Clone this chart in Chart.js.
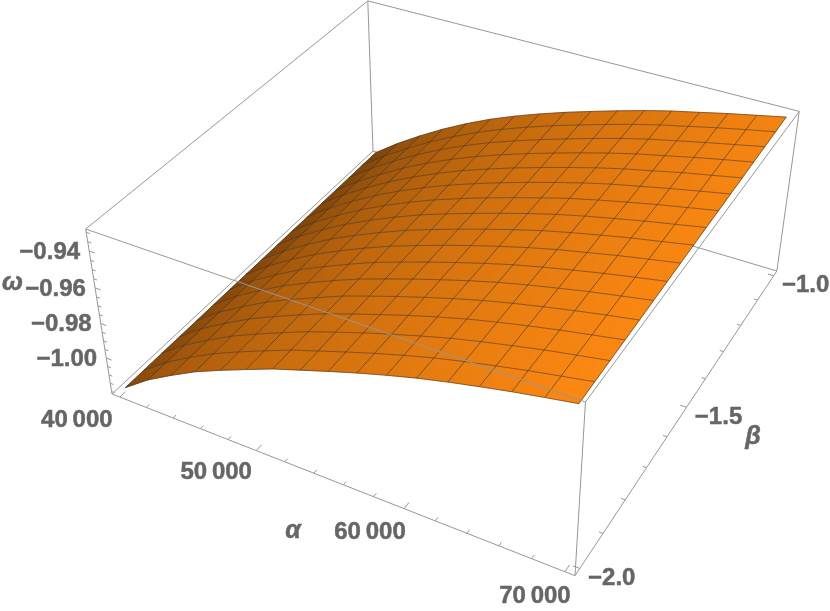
<!DOCTYPE html>
<html>
<head>
<meta charset="utf-8">
<title>omega surface</title>
<style>
  html, body { margin: 0; padding: 0; background: #fff; }
  canvas { display: block; }
</style>
<script src="https://cdn.jsdelivr.net/npm/chart.js@4/dist/chart.umd.min.js"></script>
</head>
<body>
<canvas id="grafica" width="830" height="611"></canvas>
<script>
// Valores
const alphaValues = [40000, 41875, 43750, 45625, 47500, 49375, 51250, 53125, 55000, 56875, 58750, 60625, 62500, 64375, 66250, 68125, 70000];
const betaValues = [-2, -1.9375, -1.875, -1.8125, -1.75, -1.6875, -1.625, -1.5625, -1.5, -1.4375, -1.375, -1.3125, -1.25, -1.1875, -1.125, -1.0625, -1];
// una fila por cada beta, una columna por cada alpha
const omegaRows = [
  [-1.0192, -1.0088, -1.0004, -0.9926, -0.9861, -0.9800, -0.9740, -0.9690, -0.9640, -0.9592, -0.9547, -0.9505, -0.9468, -0.9434, -0.9402, -0.9373, -0.9345],
  [-1.0192, -1.0088, -1.0003, -0.9925, -0.9859, -0.9798, -0.9738, -0.9688, -0.9638, -0.9590, -0.9545, -0.9503, -0.9466, -0.9432, -0.9400, -0.9371, -0.9342],
  [-1.0191, -1.0088, -1.0003, -0.9924, -0.9858, -0.9796, -0.9736, -0.9685, -0.9635, -0.9588, -0.9543, -0.9501, -0.9464, -0.9430, -0.9397, -0.9368, -0.9340],
  [-1.0191, -1.0087, -1.0002, -0.9923, -0.9856, -0.9794, -0.9734, -0.9683, -0.9633, -0.9585, -0.9540, -0.9498, -0.9461, -0.9427, -0.9395, -0.9366, -0.9337],
  [-1.0191, -1.0087, -1.0002, -0.9922, -0.9854, -0.9792, -0.9731, -0.9680, -0.9630, -0.9583, -0.9538, -0.9496, -0.9459, -0.9425, -0.9393, -0.9363, -0.9335],
  [-1.0190, -1.0087, -1.0001, -0.9921, -0.9853, -0.9789, -0.9729, -0.9678, -0.9628, -0.9581, -0.9536, -0.9494, -0.9457, -0.9423, -0.9390, -0.9361, -0.9332],
  [-1.0190, -1.0087, -1.0000, -0.9920, -0.9851, -0.9787, -0.9727, -0.9676, -0.9626, -0.9579, -0.9534, -0.9492, -0.9455, -0.9421, -0.9388, -0.9358, -0.9329],
  [-1.0190, -1.0087, -1.0000, -0.9919, -0.9849, -0.9785, -0.9725, -0.9673, -0.9623, -0.9576, -0.9532, -0.9490, -0.9452, -0.9419, -0.9386, -0.9356, -0.9327],
  [-1.0190, -1.0087, -0.9999, -0.9918, -0.9848, -0.9783, -0.9723, -0.9671, -0.9621, -0.9574, -0.9529, -0.9487, -0.9450, -0.9416, -0.9383, -0.9354, -0.9324],
  [-1.0189, -1.0086, -0.9998, -0.9917, -0.9846, -0.9781, -0.9721, -0.9668, -0.9619, -0.9572, -0.9527, -0.9485, -0.9448, -0.9414, -0.9381, -0.9351, -0.9321],
  [-1.0189, -1.0086, -0.9998, -0.9916, -0.9844, -0.9779, -0.9719, -0.9666, -0.9616, -0.9570, -0.9525, -0.9483, -0.9446, -0.9412, -0.9379, -0.9349, -0.9319],
  [-1.0189, -1.0086, -0.9997, -0.9915, -0.9842, -0.9777, -0.9717, -0.9664, -0.9614, -0.9567, -0.9523, -0.9481, -0.9443, -0.9410, -0.9377, -0.9346, -0.9316],
  [-1.0188, -1.0086, -0.9997, -0.9914, -0.9841, -0.9775, -0.9714, -0.9661, -0.9611, -0.9565, -0.9521, -0.9479, -0.9441, -0.9408, -0.9374, -0.9344, -0.9314],
  [-1.0188, -1.0086, -0.9996, -0.9913, -0.9839, -0.9772, -0.9712, -0.9659, -0.9609, -0.9563, -0.9519, -0.9477, -0.9439, -0.9406, -0.9372, -0.9341, -0.9311],
  [-1.0188, -1.0085, -0.9995, -0.9912, -0.9837, -0.9770, -0.9710, -0.9657, -0.9607, -0.9561, -0.9516, -0.9474, -0.9436, -0.9403, -0.9370, -0.9339, -0.9308],
  [-1.0187, -1.0085, -0.9995, -0.9911, -0.9836, -0.9768, -0.9708, -0.9654, -0.9604, -0.9558, -0.9514, -0.9472, -0.9434, -0.9401, -0.9367, -0.9336, -0.9306],
  [-1.0187, -1.0085, -0.9994, -0.9910, -0.9834, -0.9766, -0.9706, -0.9652, -0.9602, -0.9556, -0.9512, -0.9470, -0.9432, -0.9399, -0.9365, -0.9334, -0.9303]
];

// Marcas de los ejes
const alphaMajor = [40000, 50000, 60000, 70000];
const alphaMinor = [42000, 44000, 46000, 48000, 52000, 54000, 56000, 58000, 62000, 64000, 66000, 68000];
const alphaLabels = ['40\u2009000', '50\u2009000', '60\u2009000', '70\u2009000'];
const betaMajor = [-2, -1.5, -1];
const betaMinor = [-1.9, -1.8, -1.7, -1.6, -1.4, -1.3, -1.2, -1.1];
const betaLabels = ['\u22122.0', '\u22121.5', '\u22121.0'];
const omegaMajor = [-1, -0.98, -0.96, -0.94];
const omegaMinor = [-1.02, -1.015, -1.01, -1.005, -0.995, -0.99, -0.985, -0.975, -0.97, -0.965, -0.955, -0.95, -0.945, -0.935, -0.93];
const omegaLabels = ['\u22121.00', '\u22120.98', '\u22120.96', '\u22120.94'];

// Caja de la grafica
const alphaBox = [39400, 70600];
const betaBox = [-2.02, -0.98];
const omegaBox = [-1.0215, -0.9283];

// Camara: pantalla de cuatro esquinas de la caja y fuga de cada eje
const camO = [112, 394], camA = [575, 575.7], camB = [373, 151], camC = [85.7, 229];
const fugaA = -0.121, fugaB = 0.207, fugaC = -0.071;

const proyectar = (alpha, beta, omega) => {
    const a = (alpha - alphaBox[0]) / (alphaBox[1] - alphaBox[0]);
    const b = (beta - betaBox[0]) / (betaBox[1] - betaBox[0]);
    const c = (omega - omegaBox[0]) / (omegaBox[1] - omegaBox[0]);
    const d = 1 + a * fugaA + b * fugaB + c * fugaC;
    const eje = k => camO[k]
        + a * (camA[k] * (1 + fugaA) - camO[k])
        + b * (camB[k] * (1 + fugaB) - camO[k])
        + c * (camC[k] * (1 + fugaC) - camO[k]);
    return { x: eje(0) / d, y: eje(1) / d };
};

// Color del naranja segun alpha y beta
const tono = (i, j) => {
    const s = i / (alphaValues.length - 1);
    const t = j / (betaValues.length - 1);
    const r = 130 + 122 * Math.pow(s, 0.55) - 14 * t * (1 - s * 0.5);
    return `rgb(${r.toFixed(0)},${(r * 0.54).toFixed(0)},${(r * 0.07).toFixed(0)})`;
};

const datasets = [];

const agregarLinea = (data, color, width, order) => {
    datasets.push({
        data: data,
        showLine: true,
        fill: false,
        tension: 0,
        pointRadius: 0,
        borderColor: color,
        borderWidth: width,
        order: order
    });
};

// Celdas de la superficie
for (let j = 0; j < betaValues.length - 1; j++) {
    for (let i = 0; i < alphaValues.length - 1; i++) {
        const p00 = proyectar(alphaValues[i], betaValues[j], omegaRows[j][i]);
        const p10 = proyectar(alphaValues[i + 1], betaValues[j], omegaRows[j][i + 1]);
        const p11 = proyectar(alphaValues[i + 1], betaValues[j + 1], omegaRows[j + 1][i + 1]);
        const p01 = proyectar(alphaValues[i], betaValues[j + 1], omegaRows[j + 1][i]);
        datasets.push({
            data: [p00, p10, p11, p01, p00],
            showLine: true,
            fill: 'shape',
            tension: 0,
            pointRadius: 0,
            borderWidth: 0.6,
            borderColor: tono(i, j),
            backgroundColor: ctx => {
                const { x, y } = ctx.chart.scales;
                const x0 = x.getPixelForValue(p00.x), y0 = y.getPixelForValue(p00.y);
                const x1 = x.getPixelForValue(p11.x), y1 = y.getPixelForValue(p11.y);
                // en la primera pasada las escalas aun no tienen tamano
                if (![x0, y0, x1, y1].every(Number.isFinite)) {
                    return tono(i, j);
                }
                const g = ctx.chart.ctx.createLinearGradient(x0, y0, x1, y1);
                g.addColorStop(0, tono(i, j));
                g.addColorStop(1, tono(i + 1, j + 1));
                return g;
            },
            order: 50
        });
    }
}

// Malla
betaValues.forEach((beta, j) => {
    agregarLinea(alphaValues.map((alpha, i) => proyectar(alpha, beta, omegaRows[j][i])), 'rgba(70,52,36,0.58)', 1, 20);
});
alphaValues.forEach((alpha, i) => {
    agregarLinea(betaValues.map((beta, j) => proyectar(alpha, beta, omegaRows[j][i])), 'rgba(60,44,30,0.72)', 0.85, 20);
});

// Caja
const colorCaja = '#969696';
const [a0, a1] = alphaBox, [b0, b1] = betaBox, [w0, w1] = omegaBox;
agregarLinea([proyectar(a0, b1, w0), proyectar(a1, b1, w0)], colorCaja, 1, 100);
[
    [[a0, b0, w0], [a1, b0, w0]], [[a1, b0, w0], [a1, b1, w0]], [[a0, b0, w0], [a0, b1, w0]],
    [[a0, b0, w1], [a1, b0, w1]], [[a1, b0, w1], [a1, b1, w1]], [[a1, b1, w1], [a0, b1, w1]], [[a0, b1, w1], [a0, b0, w1]],
    [[a0, b0, w0], [a0, b0, w1]], [[a1, b0, w0], [a1, b0, w1]], [[a1, b1, w0], [a1, b1, w1]], [[a0, b1, w0], [a0, b1, w1]]
].forEach(([p, q]) => agregarLinea([proyectar(...p), proyectar(...q)], colorCaja, 1, 10));

// Marcas
const anchoB = betaBox[1] - betaBox[0], anchoA = alphaBox[1] - alphaBox[0];
alphaMajor.forEach(v => agregarLinea([proyectar(v, b0, w0), proyectar(v, b0 + 0.018 * anchoB, w0)], colorCaja, 1, 10));
alphaMinor.forEach(v => agregarLinea([proyectar(v, b0, w0), proyectar(v, b0 + 0.01 * anchoB, w0)], colorCaja, 1, 10));
betaMajor.forEach(v => agregarLinea([proyectar(a1, v, w0), proyectar(a1 - 0.013 * anchoA, v, w0)], colorCaja, 1, 10));
betaMinor.forEach(v => agregarLinea([proyectar(a1, v, w0), proyectar(a1 - 0.008 * anchoA, v, w0)], colorCaja, 1, 10));
omegaMajor.forEach(v => agregarLinea([proyectar(a0, b0, v), proyectar(a0 + 0.013 * anchoA, b0, v)], colorCaja, 1, 10));
omegaMinor.forEach(v => agregarLinea([proyectar(a0, b0, v), proyectar(a0 + 0.008 * anchoA, b0, v)], colorCaja, 1, 10));

// Textos de los ejes
const textos = [];
const fuenteTick = 'bold 24px "Liberation Sans", Arial, sans-serif';
const fuenteEje = 'italic bold 25px "Liberation Sans", Arial, sans-serif';
const offsetsAlpha = [[-43, 23], [-40, 22], [-34, 24], [-30, 25]];
alphaMajor.forEach((v, n) => textos.push({ p: proyectar(v, b0, w0), t: alphaLabels[n], dx: offsetsAlpha[n][0], dy: offsetsAlpha[n][1], f: fuenteTick }));
betaMajor.forEach((v, n) => textos.push({ p: proyectar(a1, v, w0), t: betaLabels[n], dx: 32, dy: 10, f: fuenteTick }));
omegaMajor.forEach((v, n) => textos.push({ p: proyectar(a0, b0, v), t: omegaLabels[n], dx: -39.5, dy: 1, f: fuenteTick }));
textos.push({ p: proyectar(55000, b0, w0), t: '\u03b1', dx: -35.6, dy: 52, f: fuenteEje });
textos.push({ p: proyectar(a1, -1.5, w0), t: '\u03b2', dx: 66.5, dy: 30, f: fuenteEje });
textos.push({ p: proyectar(a0, b0, (w0 + w1) / 2), t: '\u03c9', dx: -87, dy: -31.5, f: fuenteEje });

const pluginTextos = {
    id: 'textosEjes',
    afterDatasetsDraw(chart) {
        const { ctx, scales } = chart;
        ctx.save();
        ctx.fillStyle = '#666666';
        ctx.strokeStyle = '#666666';
        ctx.lineWidth = 0.5;
        ctx.textAlign = 'center';
        ctx.textBaseline = 'middle';
        textos.forEach(o => {
            const px = scales.x.getPixelForValue(o.p.x) + o.dx;
            const py = scales.y.getPixelForValue(o.p.y) + o.dy;
            ctx.font = o.f;
            ctx.fillText(o.t, px, py);
            ctx.strokeText(o.t, px, py);
        });
        ctx.restore();
    }
};

new Chart(document.getElementById('grafica').getContext('2d'), {
    type: 'scatter',
    data: { datasets: datasets },
    plugins: [pluginTextos],
    options: {
        responsive: false,
        animation: false,
        events: [],
        layout: { padding: 0 },
        plugins: { legend: { display: false }, tooltip: { enabled: false }, title: { display: false } },
        scales: {
            x: { type: 'linear', display: false, min: 0, max: 830 },
            y: { type: 'linear', display: false, min: 0, max: 611, reverse: true }
        }
    }
});
</script>
</body>
</html>
